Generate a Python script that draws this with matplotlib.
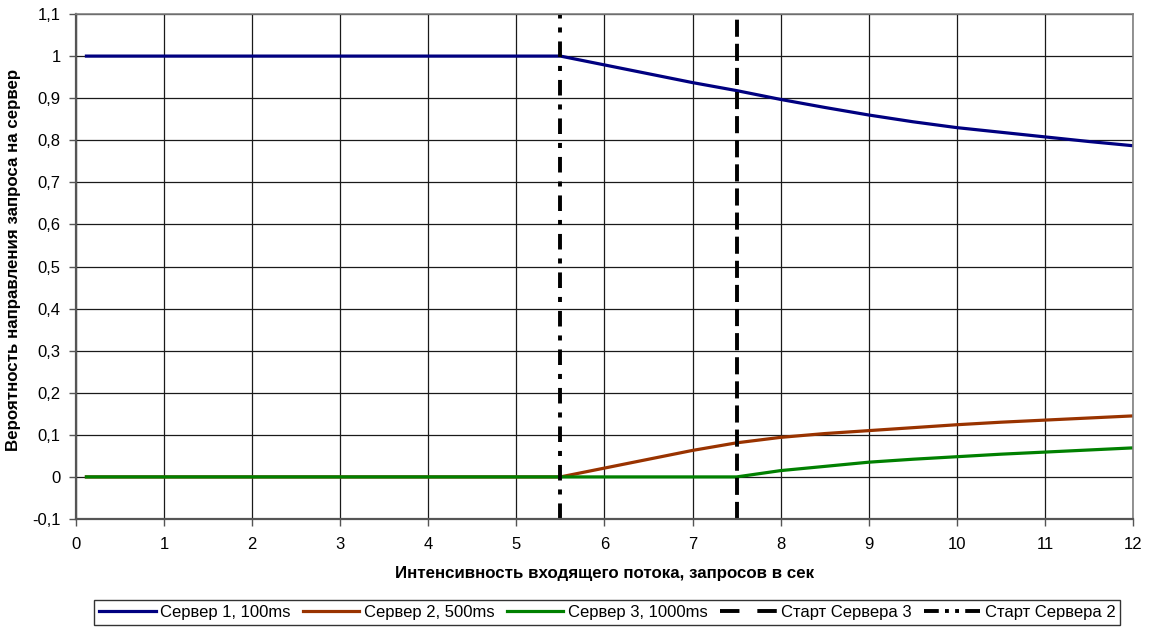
import matplotlib
matplotlib.use("Agg")
import matplotlib.pyplot as plt
from matplotlib.lines import Line2D
from matplotlib.ticker import FuncFormatter, MultipleLocator

plt.rcParams['font.family'] = ['Liberation Sans', 'DejaVu Sans']

# Request intensity, requests per second
intensity = [0.1, 1, 2, 3, 4, 5, 5.5, 6, 6.5, 7, 7.5, 8, 8.5, 9, 9.5,
             10, 10.5, 11, 11.5, 12]

# Probability of routing a request to each server
server1 = [1.0, 1.0, 1.0, 1.0, 1.0, 1.0, 1.0, 0.979, 0.958, 0.937, 0.918,
           0.897, 0.878, 0.860, 0.844, 0.830, 0.819, 0.808, 0.797, 0.787]
server2 = [0.0, 0.0, 0.0, 0.0, 0.0, 0.0, 0.0, 0.021, 0.042, 0.063, 0.081,
           0.094, 0.103, 0.110, 0.117, 0.124, 0.130, 0.135, 0.140, 0.145]
server3 = [0.0, 0.0, 0.0, 0.0, 0.0, 0.0, 0.0, 0.0, 0.0, 0.0, 0.0,
           0.015, 0.025, 0.035, 0.042, 0.048, 0.054, 0.059, 0.064, 0.069]

start_server2 = 5.5
start_server3 = 7.5

labels = ["Сервер 1, 100ms", "Сервер 2, 500ms", "Сервер 3, 1000ms",
          "Старт Сервера 3", "Старт Сервера 2"]
colors = ["#000080", "#993300", "#008000"]

fig = plt.figure(figsize=(11.5, 6.31), dpi=100)
ax = fig.add_axes([0.0661, 0.1775, 0.9191, 0.8003])

ax.set_xlim(0, 12)
ax.set_ylim(-0.1, 1.1)
ax.xaxis.set_major_locator(MultipleLocator(1))
ax.yaxis.set_major_locator(MultipleLocator(0.1))
ax.yaxis.set_major_formatter(FuncFormatter(
    lambda v, _: ("%g" % round(v, 2)).replace(".", ",")))

ax.grid(True, color="#1a1a1a", linewidth=0.9)
ax.set_axisbelow(True)

lw = 2.3
for ys, c in zip([server1, server2, server3], colors):
    ax.plot(intensity, ys, color=c, linewidth=lw, solid_capstyle='butt')

vlw = 2.8
ax.axvline(start_server3, color="black", linewidth=vlw,
           linestyle=(0, (4.4, 1.8)))
ax.axvline(start_server2, color="black", linewidth=vlw,
           linestyle=(0, (4.0, 2.3, 1.3, 2.3)))

for side in ["top", "right"]:
    ax.spines[side].set_color("#808080")
    ax.spines[side].set_linewidth(1.2)
for side in ["left", "bottom"]:
    ax.spines[side].set_color("#555555")
    ax.spines[side].set_linewidth(1.6)

ax.tick_params(axis="both", direction="out", length=5, width=1,
               color="#555555", labelsize=12, labelcolor="black")
ax.tick_params(axis="x", pad=8)
ax.tick_params(axis="y", pad=6)

ax.set_xlabel("Интенсивность входящего потока, запросов в сек",
              fontsize=12.2, fontweight="bold", labelpad=10)
ax.set_ylabel("Вероятность направления запроса на сервер",
              fontsize=12.2, fontweight="bold")
ax.yaxis.set_label_coords(-0.052, 0.513)

handles = [Line2D([], [], color=colors[0], linewidth=lw),
           Line2D([], [], color=colors[1], linewidth=lw),
           Line2D([], [], color=colors[2], linewidth=lw),
           Line2D([], [], color="black", linewidth=vlw,
                  linestyle=(0, (5.0, 4.6))),
           Line2D([], [], color="black", linewidth=vlw,
                  linestyle=(0, (3.8, 1.6, 1.0, 1.6, 1.0, 1.6)))]
leg = fig.legend(handles, labels, loc="center", ncol=5,
                 bbox_to_anchor=(0.528, 0.029), fontsize=12,
                 frameon=True, fancybox=False, edgecolor="black",
                 handlelength=3.4, handletextpad=0.25, columnspacing=0.75,
                 borderpad=0.3, borderaxespad=0)
leg.get_frame().set_linewidth(1.0)

fig.savefig("out.png", dpi=100)
